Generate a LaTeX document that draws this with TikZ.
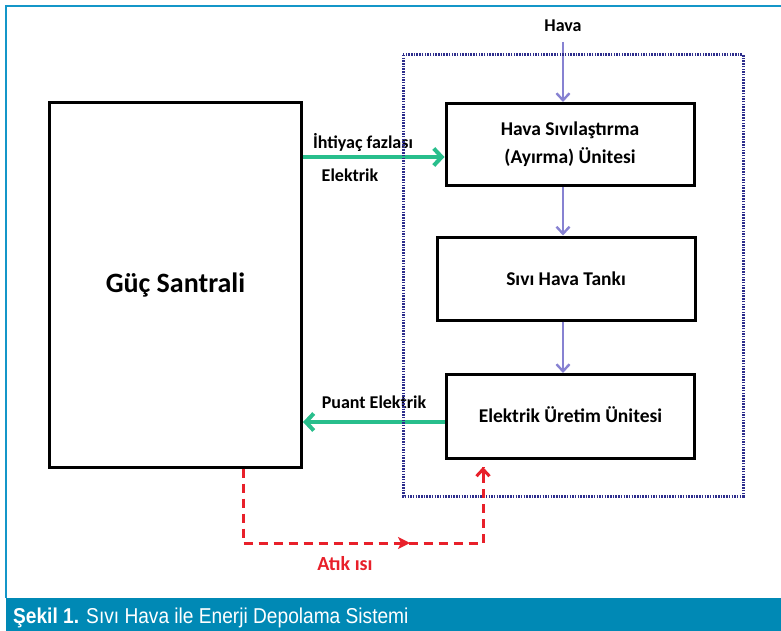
\documentclass[tikz,border=0pt]{standalone}
\usepackage{fontspec}
\setmainfont{Carlito}
\newfontfamily\capfont[FakeStretch=0.89]{Liberation Sans}
\usetikzlibrary{arrows.meta,decorations.markings}
\definecolor{frameblue}{RGB}{20,150,200}
\definecolor{barblue}{RGB}{0,137,181}
\definecolor{dotblue}{RGB}{45,45,140}
\definecolor{arrpurple}{RGB}{135,130,210}
\definecolor{arrgreen}{RGB}{40,190,140}
\definecolor{heatred}{RGB}{232,32,42}
\begin{document}
\begin{tikzpicture}[x=1pt,y=-1pt,
  unitbox/.style={draw=black,line width=3pt,fill=white,inner sep=0pt,align=center,font=\bfseries\fontsize{19.5}{28}\selectfont},
  lbl/.style={font=\bfseries\fontsize{18}{20}\selectfont,inner sep=0pt},
  parrow/.style={draw=arrpurple,line width=2.4pt,-{Straight Barb[length=7pt,width=13pt]}},
  garrow/.style={draw=arrgreen,line width=4pt,-{Straight Barb[length=8pt,width=17pt]}},
  rline/.style={draw=heatred,line width=3pt,dash pattern=on 9pt off 6pt}
]
\useasboundingbox (0,0) rectangle (781,631);
\fill[white] (0,0) rectangle (781,631);
% frame
\draw[frameblue,line width=1.8pt] (6,598) -- (6,6) -- (781,6);
\fill[barblue] (6,598) rectangle (781,631);
\node[anchor=base west,text=white,inner sep=0pt,font=\capfont\fontsize{21.5}{24}\selectfont] (cap) at (13,623) {\textbf{Şekil 1.} Sıvı Hava ile Enerji Depolama Sistemi};
% boxes
\node[unitbox,minimum width=252pt,minimum height=364pt,font=\bfseries\fontsize{28}{32}\selectfont] (guc) at (175.5,285) {Güç Santrali};
\node[unitbox,minimum width=248pt,minimum height=82pt] (b1) at (570,144.5) {Hava Sıvılaştırma\\(Ayırma) Ünitesi};
\node[unitbox,minimum width=258pt,minimum height=83pt] (b2) at (566,278.5) {Sıvı Hava Tankı};
\node[unitbox,minimum width=248pt,minimum height=84pt,text depth=0pt] (b3) at (570.5,416.5) {\raisebox{3pt}{Elektrik Üretim Ünitesi}};
% air
\node[lbl] (hava) at (563,26) {Hava};
\coordinate (havatop) at (563,42);
\draw[parrow] (havatop) -- (havatop |- b1.north);
\draw[parrow] (havatop |- b1.south) -- (havatop |- b2.north);
\draw[parrow] (havatop |- b2.south) -- (havatop |- b3.north);
% green arrows
\draw[garrow] (guc.east |- 0,157) -- (b1.west |- 0,157);
\draw[garrow] (b3.west |- 0,422) -- (guc.east |- 0,422);
\node[lbl] (ihtiyac) at (363,142) {İhtiyaç fazlası};
\node[lbl] (elk) at (350,175) {Elektrik};
\node[lbl] (puant) at (374,402) {Puant Elektrik};
% dotted enclosure (drawn over the arrows)
\draw[dotblue,line width=3pt,dash pattern=on 1.5pt off 1.2pt] (403,55) rectangle (743,496);
% waste heat
\coordinate (h1) at (243,543);
\coordinate (h2) at (483,543);
\coordinate (hend) at (483,467);
\draw[rline] (guc.south -| h1) -- (h1) -- (h2) -- (hend);
\draw[heatred,line width=3pt,-{Straight Barb[length=7pt,width=13pt]}] (483,475) -- (hend);
\draw[heatred,line width=3pt,-{Stealth[length=12pt,width=12pt,inset=3pt]}] (396,543) -- (410,543);
\node[font=\bfseries\fontsize{20}{22}\selectfont,text=heatred,inner sep=0pt] (atik) at (345,564) {Atık ısı};
\end{tikzpicture}
\end{document}
